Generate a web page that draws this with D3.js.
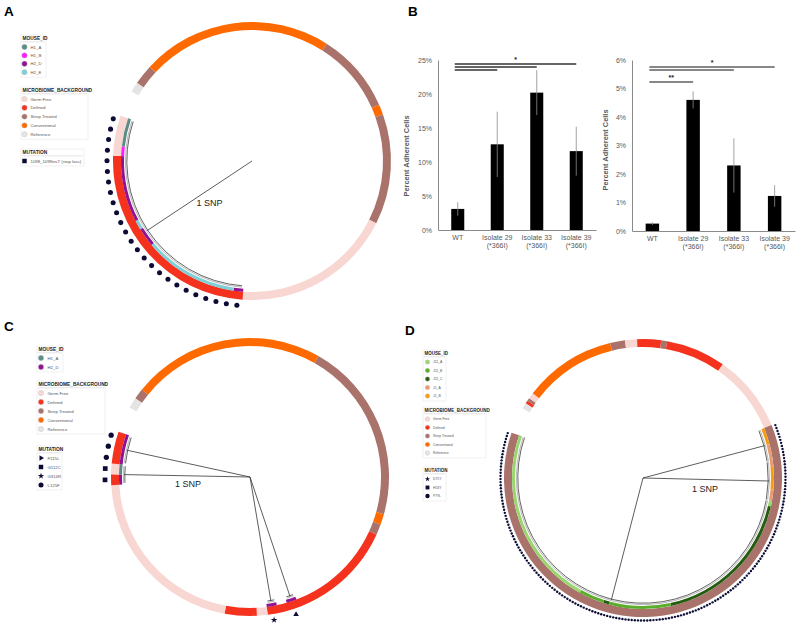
<!DOCTYPE html>
<html>
<head>
<meta charset="utf-8">
<script src="https://cdn.jsdelivr.net/npm/d3@7"></script>
<style>
body { margin: 0; background: #fff; }
svg { display: block; font-family: "Liberation Sans", Arial, sans-serif; }
</style>
</head>
<body>
<div id="fig"></div>
<script>
// ---------- data ----------
var backgrounds = ["Germ Free", "Defined", "Strep Treated", "Conventional", "Reference"];

// tree tips are listed clockwise from the gap; runs are [category, number of isolates]
// panel A
var leavesA = 83;
var bgA = [["Reference",1],["Strep Treated",2],["Conventional",19],["Strep Treated",8],["Conventional",1],["Strep Treated",11],["Germ Free",16],["Defined",21],["Germ Free",4]];
var mouseA = [[null,58],["H2_D",1],["H2_E",10],["H2_D",2],["H2_E",1],["H2_D",7],["H1_B",1],["H1_A",3]];
var mutA = [[null,58],["1098_1099insT (stop loss)",25]];
var cladesA = [[58,82]];
var mouseIdsA = ["H1_A","H1_B","H2_D","H2_E"];
var mutationsA = ["1098_1099insT (stop loss)"];

// panel C
var leavesC = 78;
var bgC = [["Reference",1],["Strep Treated",1],["Conventional",18],["Strep Treated",17],["Conventional",1],["Strep Treated",1],["Defined",13],["Germ Free",1],["Defined",3],["Germ Free",17],["Defined",1],["Germ Free",1],["Defined",3]];
var mouseC = [[null,49],["H2_D",1],[null,1],["H2_D",1],[null,21],["H2_D",1],["H1_A",1],["H2_D",3]];
var mutC = [[null,49],["F115L",1],[null,1],["G314R",1],[null,21],["G112C",2],["L125F",3]];
var cladesC = [[49,49],[51,51],[73,74],[75,77]];
var mouseIdsC = ["H1_A","H2_D"];
var mutationsC = ["F115L","G112C","G314R","L125F"];

// panel D
var leavesD = 279;
var bgD = [["Reference",2],["Defined",1],["Strep Treated",1],["Germ Free",2],["Conventional",31],["Strep Treated",5],["Germ Free",4],["Defined",8],["Strep Treated",2],["Defined",20],["Germ Free",26],["Strep Treated",177]];
var mouseD = [[null,102],["J1_B",6],["J1_A",8],["J1_B",8],["J1_A",4],["J11_A",2],["J11_C",52],["J11_B",22],["J11_C",2],["J11_B",9],["J11_A",64]];
var mutD = [[null,102],["P79L",177]];
var cladesD = [[102,113],[114,127],[128,278]];
var mouseIdsD = ["J11_A","J11_B","J11_C","J1_A","J1_B"];
var mutationsD = ["D71Y","H53Y","P79L"];

// panel B
var isolates = ["WT","Isolate 29 (*366I)","Isolate 33 (*366I)","Isolate 39 (*366I)"];
var adherentLeft = [3.1, 12.6, 20.2, 11.6];
var errLeft = [1.0, 4.8, 3.3, 3.6];
var adherentRight = [0.26, 4.6, 2.3, 1.23];
var errRight = [0.05, 0.3, 0.95, 0.38];
var ticksLeft = [0, 5, 10, 15, 20, 25];
var ticksRight = [0, 1, 2, 3, 4, 5, 6];
var sigLeft = [["Isolate 29 (*366I)",""],["Isolate 33 (*366I)",""],["Isolate 39 (*366I)","*"]];
var sigRight = [["Isolate 29 (*366I)","**"],["Isolate 33 (*366I)",""],["Isolate 39 (*366I)","*"]];

var colorDictionary = {
    "Germ Free": "#f8d6d1",
    "Defined": "#f5321e",
    "Strep Treated": "#a9736b",
    "Conventional": "#ff6a00",
    "Reference": "#e4e4e4",
    H1_A: "#5c8c86", H1_B: "#ff1aff", H2_D: "#8f1393", H2_E: "#80cfd6",
    J11_A: "#9ad66f", J11_B: "#5bae2c", J11_C: "#245d10", J1_A: "#e99b72", J1_B: "#f59d10"
}
var symbolDictionary = {
    "1098_1099insT (stop loss)": d3.symbolSquare,
    F115L: d3.symbolTriangle, G112C: d3.symbolSquare, G314R: d3.symbolStar, L125F: d3.symbolCircle,
    D71Y: d3.symbolStar, H53Y: d3.symbolSquare, P79L: d3.symbolCircle
}
var navy = "#0b0b35";

// star & triangle look bigger than circles at equal area
function symSize(t, s) {
    return (t === d3.symbolStar || t === d3.symbolTriangle) ? s * 0.6 : s;
}

// ---------- svg ----------
var svg = d3.select("#fig").append("svg").attr("width", 800).attr("height", 626);
svg.append("rect").attr("width", 800).attr("height", 626).attr("fill", "#fff");

function rad(d) { return d * Math.PI / 180; }

// runs -> segments with first/last tip index
function segs(runs) {
    var pos = 0, out = [];
    runs.forEach(function(r) {
        if (r[0]) out.push({key: r[0], i0: pos, i1: pos + r[1]});
        pos += r[1];
    });
    return out;
}
function tips(runs) {
    var out = [];
    segs(runs).forEach(function(s) {
        for (var i = s.i0; i < s.i1; i++) out.push({key: s.key, i: i});
    });
    return out;
}

function drawTree(cfg) {
    var g = svg.append("g").attr("transform", "translate(" + cfg.cx + "," + cfg.cy + ")");
    var leaf = d3.scaleLinear().domain([0, cfg.leaves]).range([rad(300), rad(649)]);
    var snp = d3.scaleLinear().domain([0, 1]).range([0, 126]);
    function px(r, a) { return [r * Math.sin(a), -r * Math.cos(a)]; }

    // background ring
    var ring = d3.arc().innerRadius(131).outerRadius(139);
    g.selectAll("path.bg").data(segs(cfg.bg)).enter().append("path")
        .attr("d", function(d) { return ring({startAngle: leaf(d.i0), endAngle: leaf(d.i1)}); })
        .attr("fill", function(d) { return colorDictionary[d.key]; });

    // mouse id track
    var track = d3.arc().innerRadius(128).outerRadius(131);
    g.selectAll("path.mouse").data(segs(cfg.mouse)).enter().append("path")
        .attr("d", function(d) { return track({startAngle: leaf(d.i0), endAngle: leaf(d.i1)}); })
        .attr("fill", function(d) { return colorDictionary[d.key]; });

    // tree: one SNP from the root to each clade
    cfg.clades.forEach(function(c, k) {
        var a0 = leaf(c[0] + 0.15), a1 = leaf(c[1] + 0.85), am = leaf((c[0] + c[1] + 1) / 2);
        [[126.6, "#9a9a9a"], [125.2, "#222"]].forEach(function(s) {
            var p = d3.path();
            p.arc(0, 0, s[0], a0 - Math.PI / 2, a1 - Math.PI / 2);
            g.append("path").attr("d", p.toString()).attr("fill", "none")
                .attr("stroke", s[1]).attr("stroke-width", 0.7);
        });
        var end = px(snp(1), am);
        g.append("line").attr("x1", 0).attr("y1", 0).attr("x2", end[0]).attr("y2", end[1])
            .attr("stroke", "#333").attr("stroke-width", 0.8);
        if (k === cfg.label.clade) {
            var mid = px(snp(0.5), am);
            g.append("text").attr("x", mid[0] + cfg.label.dx).attr("y", mid[1] + cfg.label.dy)
                .attr("text-anchor", "middle").attr("font-size", 9).attr("fill", "#222").text("1 SNP");
        }
    });

    // mutation markers
    g.selectAll("path.mut").data(tips(cfg.mut)).enter().append("path")
        .attr("transform", function(d) {
            var p = px(cfg.markerR, leaf(d.i + 0.5));
            return "translate(" + p[0] + "," + p[1] + ")";
        })
        .attr("d", function(d) {
            var t = cfg.forceCircle ? d3.symbolCircle : symbolDictionary[d.key];
            return d3.symbol().type(t).size(symSize(t, cfg.markerSize))();
        })
        .attr("fill", navy);
}

function drawLegend(x, y, w, title, items, kind, o) {
    var g = svg.append("g").attr("transform", "translate(" + x + "," + y + ")");
    var h = 12 + (items.length - 1) * o.rowH + 5;
    g.append("rect").attr("width", w).attr("height", h).attr("fill", "#fff")
        .attr("stroke", "#e8e8e8").attr("stroke-width", 0.6);
    g.append("text").attr("x", 1.5).attr("y", 5).attr("font-size", o.head)
        .attr("font-weight", "bold").attr("fill", "#222").text(title);
    g.append("line").attr("x1", 1).attr("x2", w - 1).attr("y1", 6.8).attr("y2", 6.8)
        .attr("stroke", "#d0d0d0").attr("stroke-width", 0.6);
    var rows = g.selectAll("g.row").data(items).enter().append("g")
        .attr("transform", function(d, i) { return "translate(" + o.sx + "," + (12 + i * o.rowH) + ")"; });
    if (kind === "mut") {
        rows.append("path")
            .attr("d", function(d) { var t = symbolDictionary[d]; return d3.symbol().type(t).size(symSize(t, o.sym))(); })
            .attr("transform", function(d) { return symbolDictionary[d] === d3.symbolTriangle ? "rotate(90)" : null; })
            .attr("fill", navy);
    } else {
        rows.append("circle").attr("r", o.r)
            .attr("fill", function(d) { return colorDictionary[d]; })
            .attr("stroke", "#c8c8c8").attr("stroke-width", 0.4);
    }
    rows.append("text").attr("x", o.tx).attr("y", o.item * 0.36).attr("font-size", o.item)
        .attr("fill", "#555").text(function(d) { return d; });
}

function drawBars(cfg) {
    var x = d3.scaleBand().domain(isolates).range(cfg.xRange).paddingInner(0.67).paddingOuter(0.335);
    var y = d3.scaleLinear().domain([0, cfg.ticks[cfg.ticks.length - 1]]).range(cfg.yRange);
    var g = svg.append("g");

    var yAxis = d3.axisLeft(y).tickValues(cfg.ticks).tickSize(0).tickPadding(6)
        .tickFormat(function(d) { return d + "%"; });
    var ya = g.append("g").attr("transform", "translate(" + cfg.xRange[0] + ",0)").call(yAxis);
    ya.select(".domain").attr("stroke", "#8a8a8a");
    ya.selectAll("text").attr("font-size", 7).attr("fill", "#595959").attr("font-family", "Liberation Sans, Arial");

    var xAxis = d3.axisBottom(x).tickSize(0).tickSizeOuter(0).tickFormat("");
    var xa = g.append("g").attr("transform", "translate(0," + cfg.yRange[0] + ")").call(xAxis);
    xa.select(".domain").attr("stroke", "#8a8a8a");

    g.selectAll("text.xl").data(isolates).enter().append("text")
        .attr("x", function(d) { return x(d) + x.bandwidth() / 2; })
        .attr("y", cfg.yRange[0] + 9.5)
        .attr("text-anchor", "middle").attr("font-size", 7).attr("fill", "#595959")
        .each(function(d) {
            var parts = d.split(" (");
            var t = d3.select(this);
            t.append("tspan").attr("x", x(d) + x.bandwidth() / 2).text(parts[0]);
            if (parts[1]) t.append("tspan").attr("x", x(d) + x.bandwidth() / 2).attr("dy", 8.3).text("(" + parts[1]);
        });

    g.selectAll("rect.bar").data(cfg.values).enter().append("rect")
        .attr("x", function(d, i) { return x(isolates[i]); })
        .attr("y", function(d) { return y(d); })
        .attr("width", x.bandwidth())
        .attr("height", function(d) { return y(0) - y(d); })
        .attr("fill", "#000");

    g.selectAll("line.err").data(cfg.values).enter().append("line")
        .attr("x1", function(d, i) { return x(isolates[i]) + x.bandwidth() / 2; })
        .attr("x2", function(d, i) { return x(isolates[i]) + x.bandwidth() / 2; })
        .attr("y1", function(d, i) { return y(d + cfg.err[i]); })
        .attr("y2", function(d, i) { return y(d - cfg.err[i]); })
        .attr("stroke", "#8c8c8c").attr("stroke-width", 0.8);

    var x0 = x("WT") + x.bandwidth() / 2 - 3;
    cfg.sig.forEach(function(s, i) {
        var x1 = x(s[0]) + x.bandwidth() / 2;
        var yy = cfg.sigY[i];
        g.append("line").attr("x1", x0).attr("x2", x1).attr("y1", yy).attr("y2", yy)
            .attr("stroke", cfg.sigColor).attr("stroke-width", cfg.sigW);
        if (s[1]) g.append("text").attr("x", (x0 + x1) / 2).attr("y", yy - 2)
            .attr("text-anchor", "middle").attr("font-size", 7).attr("font-weight", "bold").attr("fill", "#222").text(s[1]);
    });

    g.append("text").attr("transform", "translate(" + cfg.titleX + "," + cfg.titleY + ") rotate(-90)")
        .attr("text-anchor", "middle").attr("font-size", 7.4).attr("font-weight", "bold")
        .attr("fill", "#595959").text("Percent Adherent Cells");
}

// ---------- panels ----------
drawTree({cx: 252, cy: 161, leaves: leavesA, bg: bgA, mouse: mouseA, mut: mutA, clades: cladesA,
    markerR: 145, markerSize: 20, forceCircle: true, label: {clade: 0, dx: 10, dy: 10}});
drawTree({cx: 250, cy: 477, leaves: leavesC, bg: bgC, mouse: mouseC, mut: mutC, clades: cladesC,
    markerR: 145, markerSize: 22, label: {clade: 2, dx: 1, dy: 11}});
drawTree({cx: 643, cy: 478, leaves: leavesD, bg: bgD, mouse: mouseD, mut: mutD, clades: cladesD,
    markerR: 142.5, markerSize: 4.5, label: {clade: 1, dx: -1, dy: 13}});

var lo = {rowH: 8.4, head: 4.8, item: 4.3, r: 2.7, sym: 20, sx: 3.5, tx: 6};
drawLegend(21, 35, 25, "MOUSE_ID", mouseIdsA, "id", lo);
drawLegend(21, 87, 67, "MICROBIOME_BACKGROUND", backgrounds, "id", Object.assign({}, lo, {rowH: 8.8}));
drawLegend(21, 149, 63, "MUTATION", mutationsA, "mut", lo);

var lc = {rowH: 9, head: 4.8, item: 4.3, r: 2.7, sym: 20, sx: 4, tx: 6.5};
drawLegend(37, 346, 26, "MOUSE_ID", mouseIdsC, "id", lc);
drawLegend(37, 381, 68, "MICROBIOME_BACKGROUND", backgrounds, "id", lc);
drawLegend(37, 446, 25, "MUTATION", mutationsC, "mut", lc);

var ld = {rowH: 8.5, head: 4.5, item: 3.4, r: 2.3, sym: 15, sx: 4.5, tx: 5.5};
drawLegend(423, 350, 23, "MOUSE_ID", mouseIdsD, "id", ld);
drawLegend(423, 407, 63, "MICROBIOME_BACKGROUND", backgrounds, "id", ld);
drawLegend(423, 467, 23, "MUTATION", mutationsD, "mut", ld);

drawBars({xRange: [438, 596], yRange: [230, 60], ticks: ticksLeft, values: adherentLeft, err: errLeft,
    sig: sigLeft, sigY: [70, 67, 64], sigColor: "#333", sigW: 1.5, titleX: 409, titleY: 156});
drawBars({xRange: [632, 795], yRange: [231, 60], ticks: ticksRight, values: adherentRight, err: errRight,
    sig: sigRight, sigY: [82, 70, 67], sigColor: "#111", sigW: 1.2, titleX: 608, titleY: 150});

// panel letters
[["A", 4, 16], ["B", 408, 16], ["C", 4, 331], ["D", 405, 335]].forEach(function(l) {
    svg.append("text").attr("x", l[1]).attr("y", l[2]).attr("font-size", 13.5)
        .attr("font-weight", "bold").attr("fill", "#000").text(l[0]);
});
</script>
</body>
</html>
